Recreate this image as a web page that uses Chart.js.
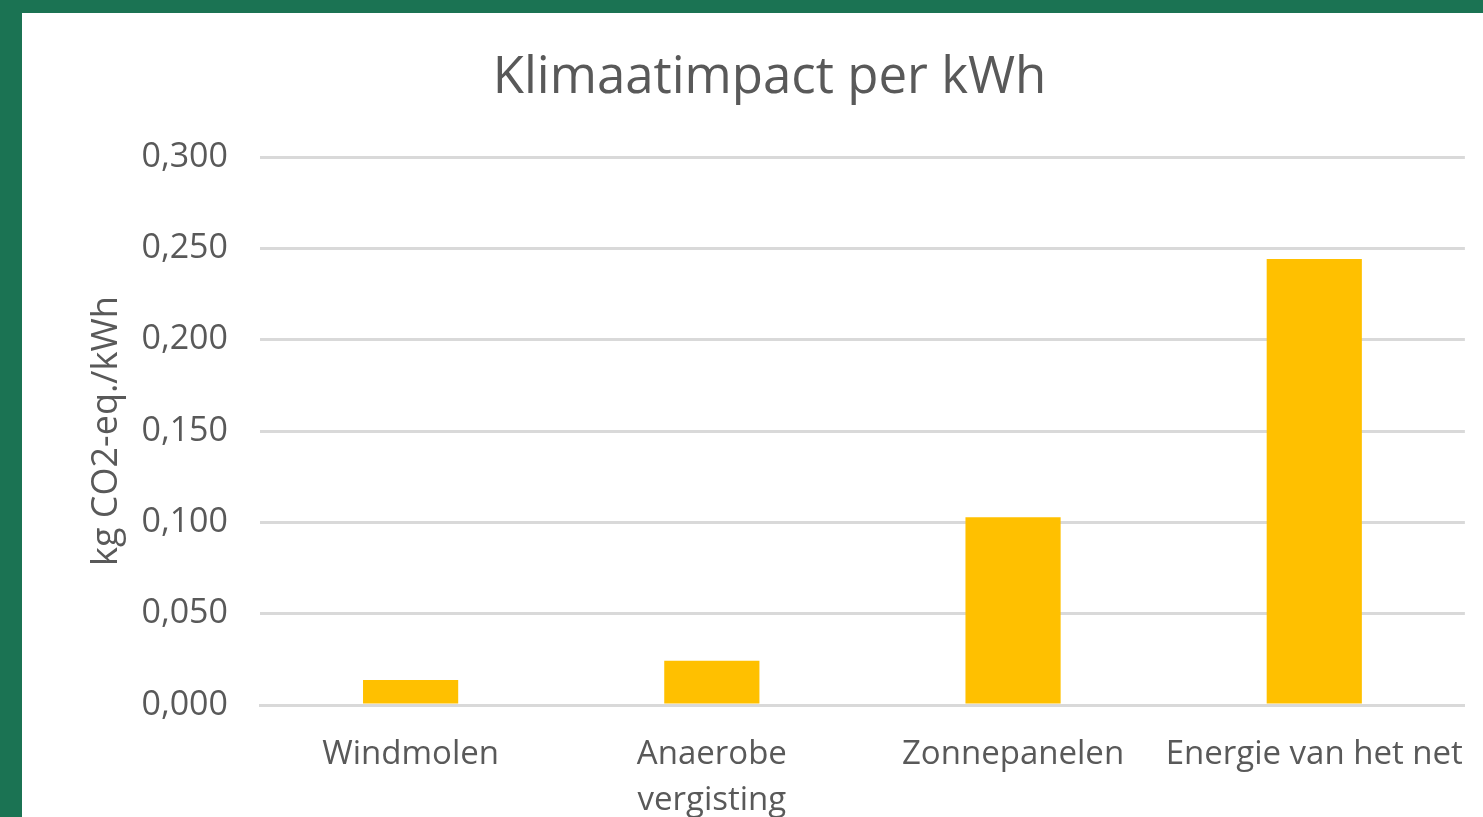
<!DOCTYPE html>
<html>
<head>
<meta charset="utf-8">
<script src="https://cdn.jsdelivr.net/npm/chart.js@4/dist/chart.umd.min.js"></script>
<style>
  html, body { margin: 0; padding: 0; }
  body { width: 1483px; height: 817px; background: #1b7353; position: relative; overflow: hidden; }
  #panel { position: absolute; left: 22px; top: 13px; width: 1461px; height: 804px; background: #fff; }
</style>
</head>
<body>
<div id="panel"><canvas id="chart" width="1461" height="804"></canvas></div>
<script>
// categorieën en waarden (kg CO2-eq. per kWh)
const categories = ["Windmolen", ["Anaerobe", "vergisting"], "Zonnepanelen", "Energie van het net"];
const impact = [0.0137, 0.0243, 0.1028, 0.2443];
const yTicks = [0, 0.05, 0.1, 0.15, 0.2, 0.25, 0.3];

const textColor = "#595959";
const gridColor = "#d9d9d9";
Chart.defaults.font.family = "'Open Sans', sans-serif";
Chart.defaults.color = textColor;

new Chart(document.getElementById("chart").getContext("2d"), {
  type: "bar",
  data: {
    labels: categories,
    datasets: [{
      label: "Klimaatimpact",
      data: impact,
      backgroundColor: "#ffc000",
      barPercentage: 0.316,
      categoryPercentage: 1
    }]
  },
  options: {
    responsive: false,
    animation: false,
    layout: { padding: { left: 51, top: 0, right: 17, bottom: 0 } },
    plugins: {
      legend: { display: false },
      tooltip: { enabled: false },
      title: {
        display: true,
        text: "Klimaatimpact per kWh",
        color: textColor,
        font: { size: 51, weight: "normal", lineHeight: 1.2 },
        padding: { top: 35, bottom: 48 }
      }
    },
    scales: {
      x: {
        grid: { display: false },
        border: { color: gridColor, width: 3 },
        ticks: { color: textColor, font: { size: 33, lineHeight: 1.4 }, padding: 18, maxRotation: 0, autoSkip: false },
        afterFit: (s) => { s.height = 112; }
      },
      y: {
        min: 0,
        max: 0.3,
        afterBuildTicks: (s) => { s.ticks = yTicks.map(v => ({ value: v })); },
        grid: { color: gridColor, lineWidth: 3, drawTicks: false },
        border: { display: false },
        ticks: {
          color: textColor,
          font: { size: 34 },
          padding: 32,
          callback: (v) => v.toFixed(3).replace(".", ",")
        },
        title: {
          display: true,
          text: "kg CO2-eq./kWh",
          color: textColor,
          font: { size: 36, lineHeight: 1.2 },
          padding: { top: 12, bottom: 0 }
        },
        afterFit: (s) => { s.width = 187; }
      }
    }
  }
});
</script>
</body>
</html>
